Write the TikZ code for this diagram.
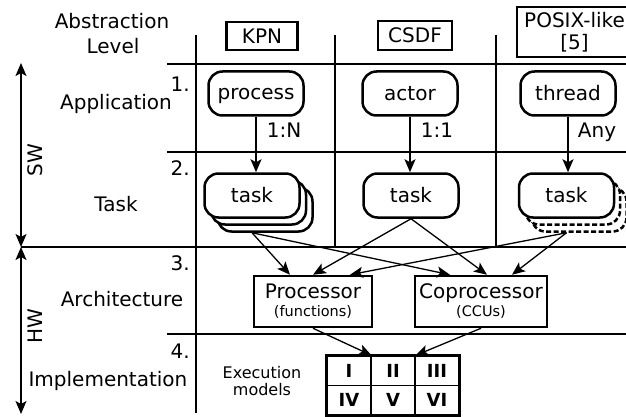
\documentclass[tikz,border=0pt]{standalone}
\usepackage{fontspec}
\setmainfont{DejaVu Sans}
\usetikzlibrary{arrows.meta,calc}

\begin{document}
\begin{tikzpicture}[x=1pt,y=-1pt,
  grid/.style={line width=1.3pt},
  txt/.style={font=\fontsize{20}{24}\selectfont, inner sep=0pt},
  hdr/.style={draw, line width=2.5pt, inner sep=0pt, font=\fontsize{20}{24}\selectfont},
  soft/.style={draw, line width=2.5pt, rounded corners=14pt, fill=white,
    minimum width=95pt, minimum height=44pt, inner sep=0pt,
    font=\fontsize{20}{24}\selectfont},
  ghost/.style={soft, dash pattern=on 5pt off 2.5pt},
  hwbox/.style={draw, line width=2.5pt, fill=white, minimum height=51pt,
    inner sep=0pt, align=center, font=\fontsize{20}{18}\selectfont},
  cell/.style={draw, line width=1.2pt, minimum width=44pt, minimum height=29.5pt,
    inner sep=0pt, font=\fontsize{18}{20}\bfseries\selectfont},
  arr/.style={line width=1.3pt, -{Stealth[length=13pt,width=11pt,inset=3pt]}},
  both/.style={line width=1.3pt,
    {Stealth[length=13pt,width=11pt,inset=3pt]}-{Stealth[length=13pt,width=11pt,inset=3pt]}},
]
\useasboundingbox (0,0) rectangle (626,417);

% table rules
\draw[grid] (196,35) -- (196,413);
\draw[grid] (335,35) -- (335,247);
\draw[grid] (496,35) -- (496,247);
\draw[grid] (167,64) -- (626,64);
\draw[grid] (167,152) -- (626,152);
\draw[grid] (21,247) -- (626,247);
\draw[grid] (167,334) -- (626,334);

% SW / HW span arrows
\coordinate (swtop) at (21,63);
\coordinate (swhw) at (21,247);
\coordinate (hwbot) at (21,414);
\draw[both] (swtop) -- (swhw);
\draw[both] (swhw) -- (hwbot);
\node[txt, rotate=90] (sw) at (35,160) {SW};
\node[txt, rotate=90] (hw) at (35,326) {HW};

% row titles
\node[txt, anchor=base] (abs1) at (112,29) {Abstraction};
\node[txt, anchor=base] (abs2) at (113,54) {Level};
\node[txt, anchor=base] (app) at (116,110) {Application};
\node[txt, anchor=base] (tsk) at (116,211) {Task};
\node[txt, anchor=base] (arch) at (122,306) {Architecture};
\node[txt, anchor=base] (impl) at (108,386) {Implementation};
\node[txt, anchor=base east] (n1) at (190,92) {1.};
\node[txt, anchor=base east] (n2) at (190,175) {2.};
\node[txt, anchor=base east] (n3) at (190,270) {3.};
\node[txt, anchor=base east] (n4) at (190,358) {4.};

% column headers
\node[hdr, minimum width=71pt, minimum height=28pt] (kpn) at (262,36) {KPN};
\node[hdr, minimum width=74pt, minimum height=29pt] (csdf) at (415,35.5) {CSDF};
\node[hdr, minimum width=115pt, minimum height=50pt, align=center,
  font=\fontsize{20}{22}\selectfont] (posix) at (574.5,32) {POSIX-like\\{[5]}};

% application level
\node[soft, text depth=0pt] (process) at (256,93.5) {process};
\node[soft] (actor) at (410,93.5) {actor};
\node[soft] (thread) at (568,93.5) {thread};

% task level
\node[soft] (kpnC) at (265,209.5) {};
\node[soft] (kpnB) at (258.5,202.5) {};
\node[soft] (kpnA) at (252,195.5) {task};
\node[soft] (csdfT) at (411,195.5) {task};
\node[ghost] (posC) at (579,209.5) {};
\node[ghost] (posB) at (572.5,202.5) {};
\node[soft] (posA) at (566.5,195.5) {task};

\draw[arr] (process.south) -- (process.south |- kpnA.north);
\draw[arr] (actor.south) -- (actor.south |- csdfT.north);
\draw[arr] (thread.south) -- (thread.south |- posA.north);

\node[txt, anchor=base] (m1) at (284,137) {1:N};
\node[txt, anchor=base] (m2) at (437,137) {1:1};
\node[txt, anchor=base] (m3) at (597,137) {Any};

% architecture level
\node[hwbox, minimum width=118pt] (proc) at (313,301.5)
  {Processor\\{\fontsize{14.5}{14}\selectfont (functions)}};
\node[hwbox, minimum width=132pt] (coproc) at (481,301.5)
  {Coprocessor\\{\fontsize{14.5}{14}\selectfont (CCUs)}};

\coordinate (kpnOut) at (kpnC.south -| kpnA.south);
\coordinate (posOut) at (posC.south -| posA.south);
\draw[arr] (kpnOut) -- ($(proc.north)+(-23,0)$);
\draw[arr] (kpnOut) -- ($(coproc.north)+(-31,0)$);
\draw[arr] (csdfT.south) -- (proc.north);
\draw[arr] (csdfT.south) -- ($(coproc.north)+(6,0)$);
\draw[arr] (posOut) -- ($(proc.north)+(37,0)$);
\draw[arr] (posOut) -- ($(coproc.north)+(31,0)$);

% implementation level
\node[font=\fontsize{16}{17}\selectfont, align=center, inner sep=0pt] (exm) at (262,381)
  {Execution\\models};
\node[cell] (e11) at (349,370.75) {I};
\node[cell] (e12) at (393,370.75) {II};
\node[cell] (e13) at (437,370.75) {III};
\node[cell] (e21) at (349,400.25) {IV};
\node[cell] (e22) at (393,400.25) {V};
\node[cell] (e23) at (437,400.25) {VI};
\draw[line width=2.5pt] (e11.north west) rectangle (e23.south east);

\draw[arr] (proc.south) -- (e11.north east);
\draw[arr] (coproc.south) -- (e12.north east);
\end{tikzpicture}
\end{document}
